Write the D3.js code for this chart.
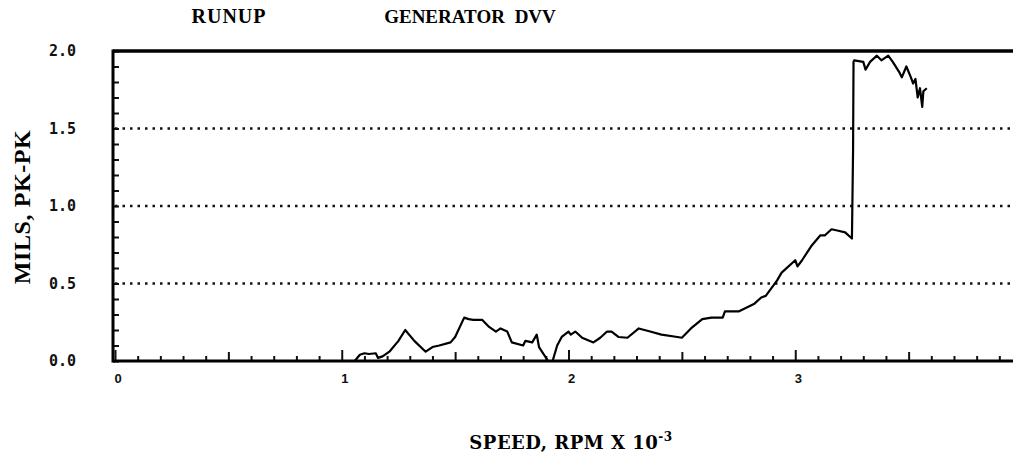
<!DOCTYPE html>
<html>
<head>
<meta charset="utf-8">
<script src="https://cdn.jsdelivr.net/npm/d3@7"></script>
<style>
  body { margin: 0; background: #fff; }
  svg { display: block; }
</style>
</head>
<body>
<div id="chart"></div>
<script>
const width = 1013;
const height = 460;

// speed in rpm x 1e-3
const speed = [1.057, 1.08, 1.10, 1.12, 1.15, 1.16, 1.18, 1.21, 1.25, 1.28, 1.32, 1.37, 1.40, 1.43, 1.48, 1.50,
  1.54, 1.56, 1.58, 1.62, 1.65, 1.68, 1.70, 1.73, 1.75, 1.80, 1.81, 1.84, 1.86, 1.87, 1.91,
  1.93, 1.95, 1.97, 2.00, 2.01, 2.03, 2.06, 2.11, 2.14, 2.17, 2.19, 2.22, 2.26, 2.31, 2.36, 2.41, 2.48, 2.50,
  2.54, 2.59, 2.63, 2.68, 2.69, 2.75, 2.82, 2.85, 2.87, 2.92, 2.94, 3.00, 3.01, 3.03, 3.07, 3.11, 3.13,
  3.16, 3.19, 3.22, 3.25, 3.255, 3.257, 3.26, 3.30, 3.31, 3.33, 3.36, 3.38, 3.41, 3.43, 3.46, 3.47, 3.49,
  3.51, 3.52, 3.53, 3.54, 3.55, 3.56, 3.565, 3.58];
// amplitude, mils pk-pk
const mils = [0.0, 0.04, 0.05, 0.045, 0.05, 0.02, 0.03, 0.06, 0.13, 0.20, 0.13, 0.06, 0.09, 0.10, 0.12, 0.155,
  0.28, 0.27, 0.265, 0.265, 0.22, 0.19, 0.21, 0.19, 0.12, 0.10, 0.13, 0.12, 0.17, 0.09, 0.0,
  0.0, 0.10, 0.155, 0.19, 0.17, 0.19, 0.15, 0.12, 0.15, 0.19, 0.19, 0.155, 0.15, 0.21, 0.19, 0.17, 0.155, 0.15,
  0.21, 0.27, 0.28, 0.28, 0.32, 0.32, 0.37, 0.41, 0.42, 0.52, 0.57, 0.65, 0.61, 0.65, 0.74, 0.81, 0.81,
  0.85, 0.84, 0.83, 0.79, 1.36, 1.93, 1.94, 1.93, 1.88, 1.93, 1.97, 1.94, 1.97, 1.93, 1.86, 1.83, 1.90,
  1.83, 1.79, 1.82, 1.70, 1.76, 1.64, 1.74, 1.76];

const xTicks = [0, 1, 2, 3, 4];
const yTicks = [0, 0.5, 1.0, 1.5, 2.0];
const gridValues = [0.5, 1.0, 1.5];

const data = speed.map((s, i) => ({ x: s, y: mils[i] }));

const svg = d3.select("#chart")
  .append("svg")
  .attr("width", width)
  .attr("height", height);

const x = d3.scaleLinear().domain([0, 4]).range([115, 1022]);
const y = d3.scaleLinear().domain([0, 2]).range([361, 51]);
const x0 = 113;

// dotted grid lines
svg.selectAll(".grid")
  .data(gridValues)
  .enter().append("line")
  .attr("x1", x0 + 2)
  .attr("x2", width)
  .attr("y1", d => y(d))
  .attr("y2", d => y(d))
  .attr("stroke", "#111")
  .attr("stroke-width", 2.5)
  .attr("stroke-dasharray", "2.5,5");

// left axis, ticks pointing inward
const yAxis = d3.axisLeft(y)
  .tickValues(d3.range(0, 2.001, 0.1))
  .tickSize(-6)
  .tickFormat("");
svg.append("g")
  .attr("transform", `translate(${x0},0)`)
  .call(yAxis)
  .call(g => g.select(".domain").remove())
  .call(g => g.selectAll("line").attr("stroke", "#111").attr("stroke-width", 2));

// bottom axis, ticks pointing up
const xAxis = d3.axisBottom(x)
  .tickValues(d3.range(0, 4.001, 0.1))
  .tickSize(-5)
  .tickFormat("");
svg.append("g")
  .attr("transform", `translate(0,${y(0)})`)
  .call(xAxis)
  .call(g => g.select(".domain").remove())
  .call(g => g.selectAll(".tick line")
    .attr("stroke", "#111")
    .attr("stroke-width", 2)
    .attr("y2", d => {
      const r = Math.round(d * 10);
      if (r % 10 === 0) return -11;
      if (r % 5 === 0) return -9;
      return -5;
    }));

// frame lines
svg.append("line")
  .attr("x1", x0).attr("x2", x0)
  .attr("y1", y(2) - 1.5).attr("y2", y(0) + 1.5)
  .attr("stroke", "#000").attr("stroke-width", 3);
svg.append("line")
  .attr("x1", x0).attr("x2", width)
  .attr("y1", y(0)).attr("y2", y(0))
  .attr("stroke", "#000").attr("stroke-width", 3);
svg.append("line")
  .attr("x1", x0).attr("x2", width)
  .attr("y1", y(2)).attr("y2", y(2))
  .attr("stroke", "#000").attr("stroke-width", 3.5);

// curve
const line = d3.line().x(d => x(d.x)).y(d => y(d.y));
svg.append("path")
  .datum(data)
  .attr("d", line)
  .attr("fill", "none")
  .attr("stroke", "#000")
  .attr("stroke-width", 2.2)
  .attr("stroke-linejoin", "round");

// tick labels
svg.selectAll(".ylab")
  .data(yTicks)
  .enter().append("text")
  .attr("x", 76)
  .attr("y", d => y(d) + 5)
  .attr("text-anchor", "end")
  .attr("font-family", "DejaVu Sans Mono, monospace")
  .attr("font-weight", "bold")
  .attr("font-size", "15px")
  .attr("fill", "#111")
  .text(d => d.toFixed(1));

svg.selectAll(".xlab")
  .data(xTicks)
  .enter().append("text")
  .attr("x", d => x(d) + 3)
  .attr("y", 383)
  .attr("text-anchor", "middle")
  .attr("font-family", "Liberation Sans, Arial, sans-serif")
  .attr("font-weight", "bold")
  .attr("font-size", "13px")
  .attr("fill", "#111")
  .text(d => d);

// titles
svg.append("text")
  .attr("x", 229).attr("y", 23)
  .attr("text-anchor", "middle")
  .attr("font-family", "Liberation Serif, Times New Roman, serif")
  .attr("font-weight", "bold")
  .attr("font-size", "20px")
  .attr("letter-spacing", "1px")
  .text("RUNUP");

svg.append("text")
  .attr("x", 470).attr("y", 23)
  .attr("text-anchor", "middle")
  .attr("font-family", "Liberation Serif, Times New Roman, serif")
  .attr("font-weight", "bold")
  .attr("font-size", "19px")
  .attr("word-spacing", "5px")
  .text("GENERATOR DVV");

// axis titles
svg.append("text")
  .attr("transform", "rotate(-90)")
  .attr("x", -207)
  .attr("y", 30)
  .attr("text-anchor", "middle")
  .attr("font-family", "Liberation Serif, Times New Roman, serif")
  .attr("font-weight", "bold")
  .attr("font-size", "24px")
  .attr("letter-spacing", "0.6px")
  .text("MILS, PK-PK");

const xt = svg.append("text")
  .attr("x", 571)
  .attr("y", 449)
  .attr("text-anchor", "middle")
  .attr("font-family", "DejaVu Serif, serif")
  .attr("font-weight", "bold")
  .attr("font-size", "18px")
  .attr("letter-spacing", "0.5px")
  .text("SPEED, RPM X 10");
xt.append("tspan")
  .attr("dy", -8)
  .attr("font-size", "12px")
  .text("-3");
</script>
</body>
</html>
